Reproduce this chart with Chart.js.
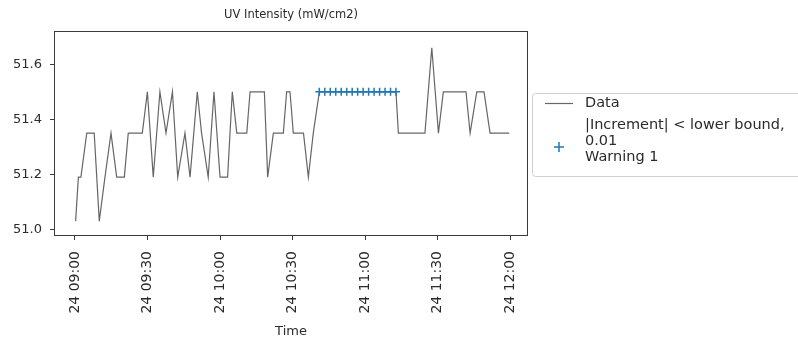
<!DOCTYPE html>
<html lang="en">
<head>
<meta charset="UTF-8">
<title>UV Intensity</title>
<script src="https://cdn.jsdelivr.net/npm/chart.js@4.4.1/dist/chart.umd.min.js"></script>
<style>
  html, body { margin:0; padding:0; background:#ffffff; }
  #uv_chart { display:block; }
</style>
</head>
<body>
<canvas id="uv_chart" width="798" height="342"></canvas>
<script>
// measurement times and UV readings
const sampleTimes = [
  '09:00:16','09:01:24','09:02:27','09:04:52','09:07:57','09:10:03','09:12:24','09:14:54',
  '09:17:15','09:20:25','09:22:02','09:27:51','09:29:57','09:32:23','09:35:08','09:37:39',
  '09:40:19','09:42:30','09:45:30','09:47:36','09:50:36','09:52:22','09:55:07','09:57:30',
  '10:00:00','10:03:08','10:05:05','10:06:56','10:11:04','10:12:26','10:18:21','10:19:43',
  '10:22:04','10:26:12','10:27:34','10:28:57','10:30:19','10:34:32','10:36:33','10:38:35',
  '10:41:05','10:43:21','10:45:37','10:47:53','10:50:09','10:52:25','10:54:41','10:56:57',
  '10:59:13','11:01:29','11:03:45','11:06:01','11:08:17','11:10:33','11:12:48','11:13:47',
  '11:24:47','11:27:37','11:30:22','11:32:23','11:41:46','11:43:28','11:46:13','11:49:13',
  '11:51:43','11:59:39'
];
const sampleValues = [
  51.03, 51.19, 51.19, 51.35, 51.35, 51.03, 51.19, 51.35,
  51.19, 51.19, 51.35, 51.35, 51.50, 51.19, 51.50, 51.35,
  51.50, 51.19, 51.35, 51.19, 51.50, 51.35, 51.19, 51.50,
  51.19, 51.19, 51.50, 51.35, 51.35, 51.50, 51.50, 51.19,
  51.35, 51.35, 51.50, 51.50, 51.35, 51.35, 51.19, 51.35,
  51.50, 51.50, 51.50, 51.50, 51.50, 51.50, 51.50, 51.50,
  51.50, 51.50, 51.50, 51.50, 51.50, 51.50, 51.50, 51.35,
  51.35, 51.66, 51.35, 51.50, 51.50, 51.35, 51.50, 51.50,
  51.35, 51.35
];

// samples flagged: |increment| < lower bound 0.01
const warnTimes = [
  '10:41:05','10:43:21','10:45:37','10:47:53','10:50:09','10:52:25','10:54:41','10:56:57',
  '10:59:13','11:01:29','11:03:45','11:06:01','11:08:17','11:10:33','11:12:48'
];
const warnValues = [
  51.50, 51.50, 51.50, 51.50, 51.50, 51.50, 51.50, 51.50,
  51.50, 51.50, 51.50, 51.50, 51.50, 51.50, 51.50
];

const xTickTimes  = ['09:00:00','09:30:00','10:00:00','10:30:00','11:00:00','11:30:00','12:00:00'];
const xTickLabels = ['24 09:00','24 09:30','24 10:00','24 10:30','24 11:00','24 11:30','24 12:00'];
const yTickValues = [51.0, 51.2, 51.4, 51.6];

const FONT = '"DejaVu Sans", sans-serif';
const TEXT = '#2b2b2b';
const AXIS = '#3a3a3a';

// "HH:MM:SS" -> minutes of the day
function toMin(s) {
  const p = s.split(':').map(Number);
  return p[0]*60 + p[1] + (p[2]||0)/60;
}

const lineData = sampleTimes.map((t, i) => ({ x: toMin(t), y: sampleValues[i] }));
const warnData = warnTimes.map((t, i) => ({ x: toMin(t), y: warnValues[i] }));
const tickMins = xTickTimes.map(toMin);

// title, frame and legend
const decor = {
  id: 'decor',
  afterDraw(chart) {
    const ctx = chart.ctx;
    const a = chart.chartArea;
    ctx.save();
    // frame
    ctx.strokeStyle = AXIS;
    ctx.lineWidth = 1;
    ctx.strokeRect(a.left + 0.5, a.top + 0.5, a.right - a.left - 1, a.bottom - a.top - 1);

    // title
    ctx.fillStyle = TEXT;
    ctx.font = '11.5px ' + FONT;
    ctx.textAlign = 'center';
    ctx.textBaseline = 'middle';
    ctx.fillText('UV Intensity (mW/cm2)', (a.left + a.right) / 2, 15);

    // legend
    const lx = 532, ly = 93, lw = 290, lh = 83;
    ctx.beginPath();
    ctx.roundRect(lx + 0.5, ly + 0.5, lw, lh, 3);
    ctx.fillStyle = '#ffffff';
    ctx.fill();
    ctx.strokeStyle = '#d0d0d0';
    ctx.stroke();

    ctx.strokeStyle = '#666666';
    ctx.lineWidth = 1.2;
    ctx.beginPath();
    ctx.moveTo(545, 103.5);
    ctx.lineTo(573, 103.5);
    ctx.stroke();

    ctx.strokeStyle = '#1f77b4';
    ctx.lineWidth = 1.5;
    ctx.beginPath();
    ctx.moveTo(554, 147); ctx.lineTo(564, 147);
    ctx.moveTo(559, 142); ctx.lineTo(559, 152);
    ctx.stroke();

    ctx.fillStyle = TEXT;
    ctx.font = '14.5px ' + FONT;
    ctx.textAlign = 'left';
    ctx.fillText('Data', 585, 103);
    ctx.fillText('|Increment| < lower bound,', 585, 125);
    ctx.fillText('0.01', 585, 141);
    ctx.fillText('Warning 1', 585, 157);
    ctx.restore();
  }
};

new Chart(document.getElementById('uv_chart'), {
  type: 'line',
  data: {
    datasets: [{
      label: 'Data',
      data: lineData,
      borderColor: '#666666',
      borderWidth: 1.2,
      pointRadius: 0,
      tension: 0,
      order: 2
    }, {
      label: '|Increment| < lower bound, 0.01 Warning 1',
      data: warnData,
      showLine: false,
      pointStyle: 'cross',
      pointRadius: 4,
      borderColor: '#1f77b4',
      backgroundColor: '#1f77b4',
      pointBorderWidth: 1.5,
      order: 1
    }]
  },
  options: {
    responsive: false,
    animation: false,
    layout: { padding: { left: 0, right: 270, top: 31, bottom: 0 } },
    plugins: { legend: { display: false }, tooltip: { enabled: false }, title: { display: false } },
    scales: {
      x: {
        type: 'linear',
        min: toMin('08:51:19'),
        max: toMin('12:07:25'),
        afterFit(s) { s.height = 106; },
        afterBuildTicks(s) { s.ticks = tickMins.map(v => ({ value: v })); },
        grid: { display: true, drawOnChartArea: false, drawTicks: true, tickLength: 4, color: AXIS },
        border: { display: false },
        ticks: {
          minRotation: 90, maxRotation: 90, padding: 11,
          color: TEXT, font: { family: FONT, size: 14 },
          callback: (v) => xTickLabels[tickMins.indexOf(v)]
        },
        title: { display: true, text: 'Time', color: TEXT, font: { family: FONT, size: 13 }, padding: { top: 0, bottom: 3 } }
      },
      y: {
        min: 50.976,
        max: 51.721,
        afterFit(s) { s.width = 54; },
        afterBuildTicks(s) { s.ticks = yTickValues.map(v => ({ value: v })); },
        grid: { display: true, drawOnChartArea: false, drawTicks: true, tickLength: 4, color: AXIS },
        border: { display: false },
        ticks: {
          padding: 8, color: TEXT, font: { family: FONT, size: 13 },
          callback: (v) => v.toFixed(1)
        }
      }
    }
  },
  plugins: [decor]
});
</script>
</body>
</html>
